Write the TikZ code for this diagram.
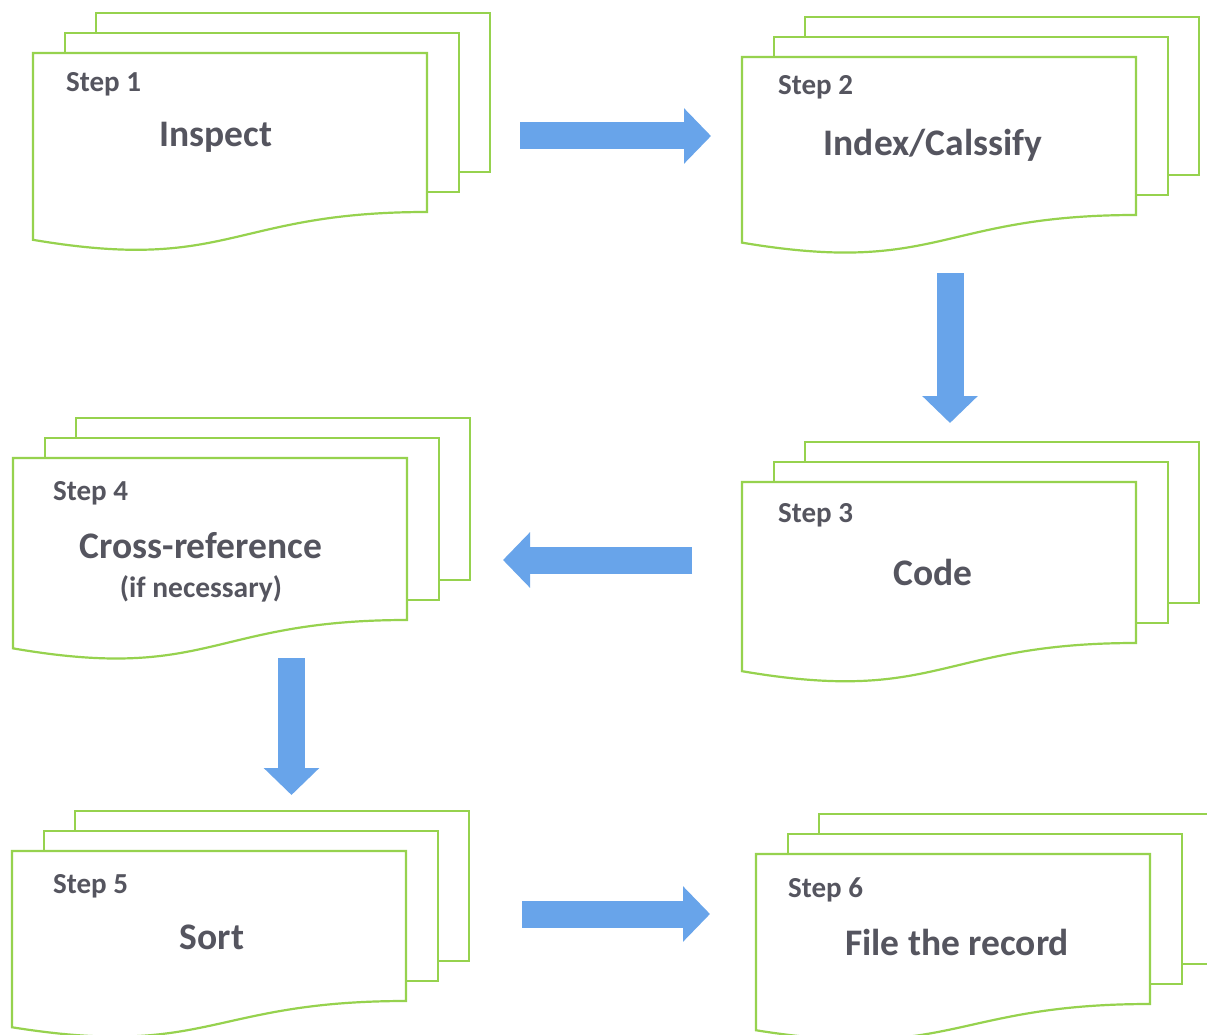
\documentclass[tikz,border=0pt]{standalone}
\usepackage{fontspec}
\setmainfont{Carlito}
\usetikzlibrary{arrows.meta}
\definecolor{sheetgreen}{RGB}{150,210,78}
\definecolor{arrowblue}{RGB}{104,164,234}
\definecolor{txtgray}{RGB}{85,85,95}
\newcommand{\docstack}[4]{%
  \begin{scope}[shift={(#2,#3)}]
    \draw[sheet] (63,-40) rectangle ++(394,#4);
    \draw[sheet] (32,-20) rectangle ++(394,#4);
    \draw[sheet] (0,0) -- (394,0) -- (394,#4)
      .. controls (197,#4) and (197,{#4*1.385}) .. (0,{#4*1.175}) -- cycle;
    \coordinate (#1) at (0,0);
  \end{scope}}
\begin{document}
\begin{tikzpicture}[x=1pt,y=-1pt,
  sheet/.style={draw=sheetgreen,line width=2.2pt,fill=white,line join=miter},
  steplbl/.style={anchor=west,text=txtgray,font=\fontsize{29}{34}\selectfont\bfseries,inner sep=0pt},
  maintxt/.style={text=txtgray,font=\fontsize{37.5}{44}\selectfont\bfseries,inner sep=0pt},
  subtxt/.style={text=txtgray,font=\fontsize{29.5}{34}\selectfont\bfseries,inner sep=0pt},
  barrow/.style={draw=arrowblue,line width=27pt,-{Triangle[length=27pt,width=54pt]}}]
\fill[white] (0,0) rectangle (1207,1035);
\useasboundingbox (0,0) rectangle (1207,1035);
% document stacks
\docstack{d1}{33}{53}{159}
\docstack{d2}{742}{57}{158}
\docstack{d3}{742}{482}{161}
\docstack{d4}{13}{458}{162}
\docstack{d5}{12}{851}{150}
\docstack{d6}{756}{854}{150}
% texts
\node[steplbl] (l1) at (66,84) {Step 1};
\node[maintxt] (t1) at (216,137) {Inspect};
\node[steplbl] (l2) at (778,87) {Step 2};
\node[maintxt] (t2) at (933,145) {Index/Calssify};
\node[steplbl] (l3) at (778,515) {Step 3};
\node[maintxt] (t3) at (933,572) {Code};
\node[steplbl] (l4) at (53,493) {Step 4};
\node[maintxt] (t4) at (201,546) {Cross-reference};
\node[subtxt] (t4b) at (201,589) {(if necessary)};
\node[steplbl] (l5) at (53,886) {Step 5};
\node[maintxt] (t5) at (212,937) {Sort};
\node[steplbl] (l6) at (788,890) {Step 6};
\node[maintxt] (t6) at (957,942) {File the record};
% block arrows
\coordinate (a1s) at (520,136); \coordinate (a1e) at (711,136);
\coordinate (a2s) at (950,273); \coordinate (a2e) at (950,423);
\coordinate (a3s) at (692,560); \coordinate (a3e) at (503,560);
\coordinate (a4s) at (291.5,658); \coordinate (a4e) at (291.5,795);
\coordinate (a5s) at (522,914); \coordinate (a5e) at (710,914);
\draw[barrow] (a1s) -- (a1e);
\draw[barrow] (a2s) -- (a2e);
\draw[barrow] (a3s) -- (a3e);
\draw[barrow] (a4s) -- (a4e);
\draw[barrow] (a5s) -- (a5e);
\end{tikzpicture}
\end{document}
